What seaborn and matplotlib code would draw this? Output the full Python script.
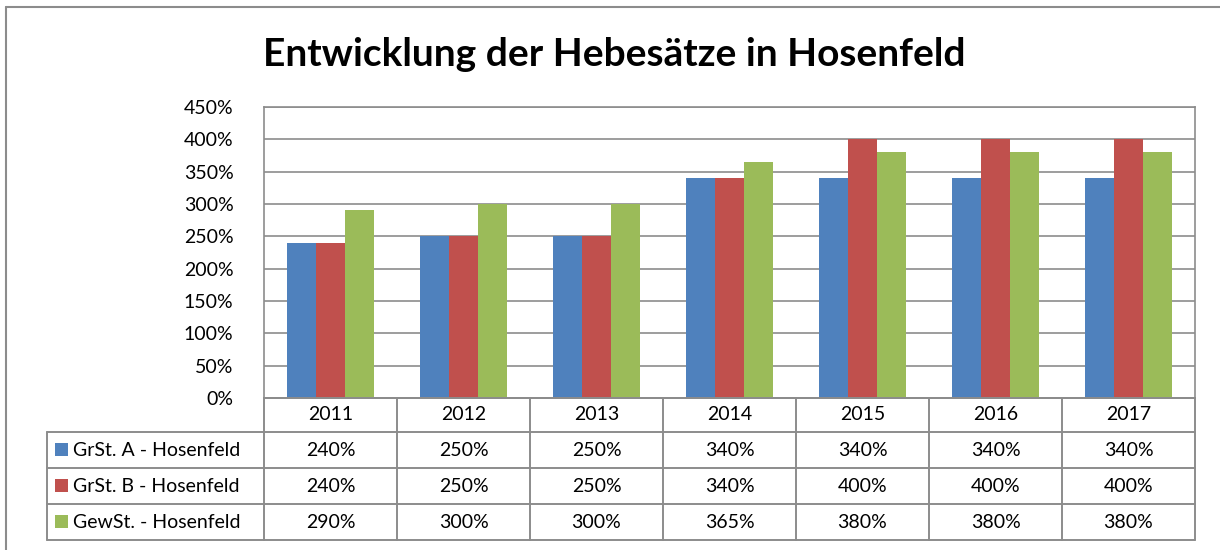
import numpy as np
import pandas as pd
import matplotlib
matplotlib.use("Agg")
import matplotlib.pyplot as plt
import matplotlib.transforms as mtransforms
from matplotlib.lines import Line2D
from matplotlib.patches import Rectangle
import seaborn as sns

# data
years = ["2011", "2012", "2013", "2014", "2015", "2016", "2017"]
series = ["GrSt. A - Hosenfeld", "GrSt. B - Hosenfeld", "GewSt. - Hosenfeld"]
grst_a = [240, 250, 250, 340, 340, 340, 340]
grst_b = [240, 250, 250, 340, 400, 400, 400]
gewst = [290, 300, 300, 365, 380, 380, 380]
colors = ["#4F81BD", "#C0504D", "#9BBB59"]
yticks = [0, 50, 100, 150, 200, 250, 300, 350, 400, 450]

df = pd.DataFrame({
    "Jahr": years * 3,
    "Serie": [series[0]] * 7 + [series[1]] * 7 + [series[2]] * 7,
    "Wert": grst_a + grst_b + gewst,
})

sns.set_style("white")
plt.rcParams["font.family"] = ["Lato", "DejaVu Sans"]
plt.rcParams["text.color"] = "black"
plt.rcParams["ytick.color"] = "black"

W, H = 1220, 550
fig = plt.figure(figsize=(W / 100, H / 100), dpi=100)
grey = "#8C8C8C"
fs = 14

def fx(x):
    return x / W

def fy(y):
    return 1 - y / H

# plot area
ax = fig.add_axes([fx(264), fy(398), fx(1195) - fx(264), fy(107) - fy(398)])
sns.barplot(data=df, x="Jahr", y="Wert", hue="Serie", palette=colors,
            width=0.65, saturation=1, legend=False, ax=ax, zorder=3,
            linewidth=0, edgecolor="none")
ax.set_ylim(0, 450)
ax.set_xlim(-0.5, len(years) - 0.5)
ax.set_yticks(yticks)
ax.set_yticklabels([f"{t}%" for t in yticks], fontsize=fs)
ax.set_xticks([])
ax.set_xlabel("")
ax.set_ylabel("")
ax.tick_params(axis="y", length=0, pad=22)
ax.yaxis.grid(True, color=grey, linewidth=1.2, zorder=0)
for s in ax.spines.values():
    s.set_color(grey)
    s.set_linewidth(1.2)

fig.text(0.5 * (fx(262) + fx(967)), fy(55), "Entwicklung der Hebesätze in Hosenfeld",
         ha="center", va="center", fontsize=28, fontweight="bold")

# data table below the axes
trans = mtransforms.blended_transform_factory(ax.transData, fig.transFigure)
row_y = [398, 432, 468, 504, 540]
lw = 1.4

# horizontal lines
fig.add_artist(Line2D([fx(264), fx(1195)], [fy(398), fy(398)], color=grey, lw=lw))
for y in row_y[1:]:
    fig.add_artist(Line2D([fx(47), fx(1195)], [fy(y), fy(y)], color=grey, lw=lw))
# vertical lines
fig.add_artist(Line2D([fx(47), fx(47)], [fy(432), fy(540)], color=grey, lw=lw))
for i in range(len(years) + 1):
    xb = i - 0.5
    fig.add_artist(Line2D([xb, xb], [fy(398), fy(540)], color=grey, lw=lw,
                          transform=trans))

for i, yr in enumerate(years):
    fig.text(i, fy(415), yr, transform=trans, ha="center", va="center", fontsize=fs)

values = [grst_a, grst_b, gewst]
for r, (name, vals, c) in enumerate(zip(series, values, colors)):
    yc = 0.5 * (row_y[r + 1] + row_y[r + 2])
    fig.add_artist(Rectangle((fx(55), fy(yc + 6)), fx(13), fy(0) - fy(13),
                             facecolor=c, edgecolor="none"))
    fig.text(fx(73), fy(yc), name, ha="left", va="center", fontsize=fs)
    for i, v in enumerate(vals):
        fig.text(i, fy(yc), f"{v}%", transform=trans, ha="center", va="center",
                 fontsize=fs)

# outer chart frame (cut off right and bottom)
fig.add_artist(Line2D([fx(6), fx(6)], [fy(7), 0], color=grey, lw=1.5))
fig.add_artist(Line2D([fx(6), 1], [fy(7), fy(7)], color=grey, lw=1.5))

fig.savefig("out.png", dpi=100)
